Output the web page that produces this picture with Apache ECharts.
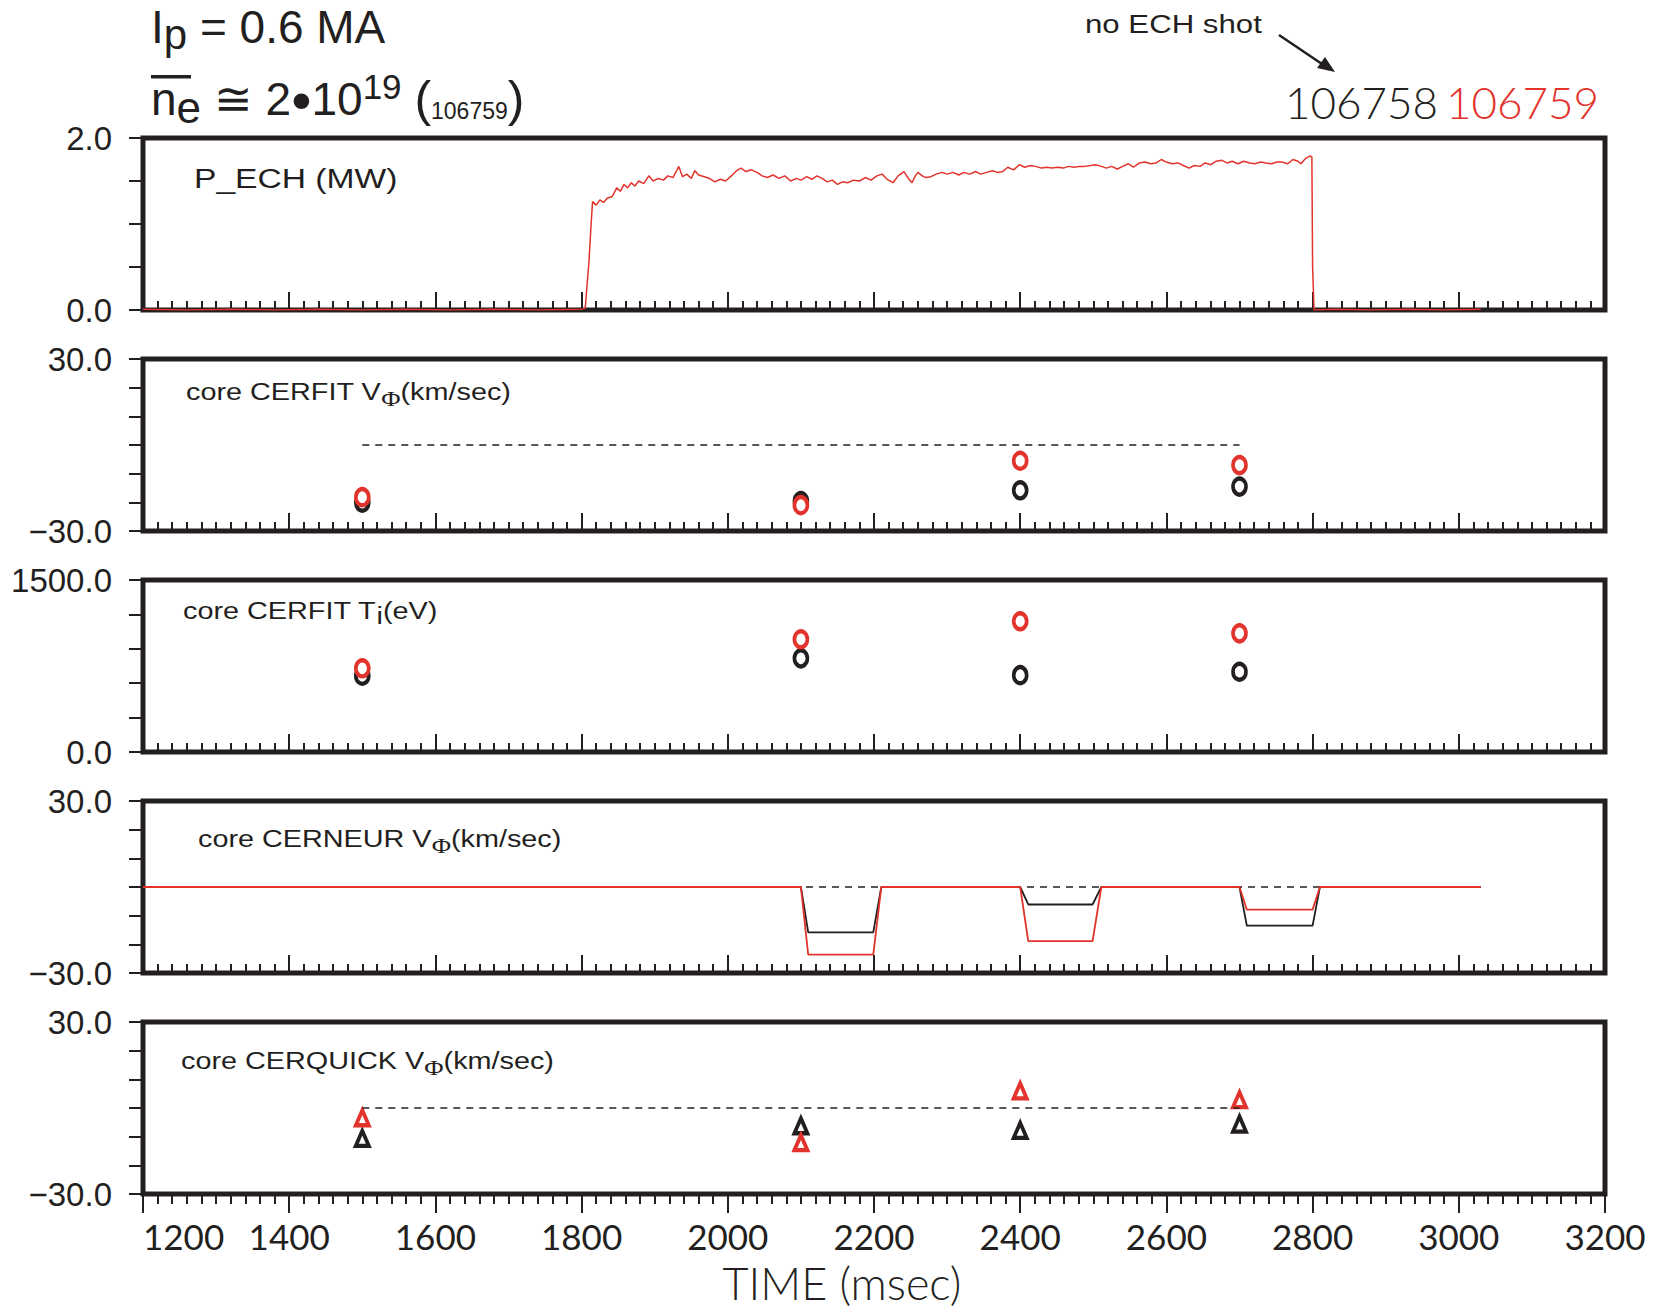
<!DOCTYPE html>
<html><head><meta charset="utf-8">
<script src="https://cdn.jsdelivr.net/npm/echarts@6/dist/echarts.min.js"></script>
<style>html,body{margin:0;padding:0;background:#fff}#c{width:1658px;height:1312px}</style>
</head><body><div id="c"></div><script>
// ---------------- DATA ----------------
const timeTicks = [1200, 1400, 1600, 1800, 2000, 2200, 2400, 2600, 2800, 3000, 3200];
const shots = ['106758', '106759'];

// P_ECH (MW), shot 106759
const pechTime = [1200,1260,1320,1380,1440,1500,1560,1620,1680,1740,1800,1805,1808,1810,1813,1815,1820,1825,1830,1835,1842,1848,1853,1858,1863,1868,1873,1878,1885,1892,1898,1905,1912,1918,1925,1933,1938,1944,1950,1955,1960,1968,1975,1982,1990,1997,2005,2012,2018,2025,2032,2040,2047,2054,2062,2070,2078,2086,2094,2100,2108,2115,2122,2129,2136,2143,2150,2157,2164,2172,2180,2188,2196,2204,2211,2218,2226,2233,2241,2247,2252,2256,2260,2266,2271,2278,2285,2293,2300,2308,2316,2323,2331,2339,2346,2354,2362,2369,2376,2383,2391,2399,2406,2414,2421,2429,2436,2444,2451,2459,2466,2474,2481,2488,2496,2503,2511,2518,2525,2533,2540,2548,2555,2563,2571,2578,2586,2593,2600,2608,2616,2623,2631,2638,2646,2653,2661,2668,2676,2683,2690,2698,2706,2714,2721,2729,2736,2744,2751,2758,2766,2773,2780,2784,2790,2796,2799,2800,2802,2830,2880,2930,2980,3030];
const pechMW   = [0.01,0.0,0.01,0.0,0.01,0.0,0.01,0.0,0.01,0.0,0.01,0.02,0.35,0.55,1.0,1.26,1.22,1.28,1.25,1.3,1.32,1.42,1.38,1.46,1.42,1.48,1.44,1.5,1.47,1.56,1.5,1.53,1.51,1.56,1.54,1.67,1.55,1.58,1.53,1.62,1.57,1.55,1.53,1.49,1.52,1.5,1.56,1.62,1.65,1.61,1.63,1.6,1.56,1.54,1.57,1.53,1.56,1.5,1.53,1.51,1.55,1.52,1.56,1.53,1.49,1.51,1.46,1.49,1.48,1.51,1.5,1.54,1.51,1.56,1.58,1.52,1.48,1.56,1.61,1.53,1.48,1.55,1.6,1.56,1.54,1.55,1.58,1.6,1.58,1.6,1.57,1.6,1.58,1.61,1.58,1.6,1.62,1.6,1.61,1.66,1.63,1.69,1.66,1.68,1.67,1.65,1.66,1.65,1.66,1.65,1.67,1.66,1.67,1.67,1.68,1.69,1.67,1.65,1.67,1.64,1.67,1.7,1.66,1.71,1.72,1.7,1.71,1.75,1.72,1.7,1.71,1.68,1.65,1.68,1.67,1.71,1.69,1.73,1.74,1.71,1.73,1.7,1.73,1.71,1.7,1.72,1.71,1.7,1.72,1.72,1.7,1.75,1.73,1.7,1.76,1.79,1.78,0.5,0.0,0.01,0.0,0.01,0.0,0.01];

// CER sample times
const cerTime = [1500, 2100, 2400, 2700];
// core CERFIT V_phi (km/sec)
const cerfitV_106758 = [-20.1, -19.6, -15.8, -14.5];
const cerfitV_106759 = [-18.2, -21.0, -5.5, -7.0];
// core CERFIT Ti (eV)
const cerfitTi_106758 = [665, 817, 670, 700];
const cerfitTi_106759 = [730, 983, 1140, 1035];
// core CERQUICK V_phi (km/sec)
const cerquickV_106758 = [-10.6, -6.2, -7.8, -5.6];
const cerquickV_106759 = [-3.4, -12.1, 6.0, 2.9];
// core CERNEUR V_phi (km/sec)
const cerneurTime = [1200, 2100, 2110, 2199, 2210, 2400, 2411, 2499, 2511, 2700, 2710, 2800, 2810, 3030];
const cerneurV_106758 = [0, 0, -15.8, -15.8, 0, 0, -6.1, -6.1, 0, 0, -13.5, -13.5, 0, 0];
const cerneurV_106759 = [0, 0, -23.6, -23.6, 0, 0, -18.9, -18.9, 0, 0, -7.9, -7.9, 0, 0];
// zero reference (dashed) extents
const zeroRefCER = [1500, 2700];
const zeroRefNEUR = [1200, 3030];

// y-axis ranges for the five panels
const yMin = [0, -30, 0, -30, -30];
const yMax = [2, 30, 1500, 30, 30];
const yStep = [0.5, 10, 300, 10, 10];

// ---------------- STYLE ----------------
const INK = '#231f20';
const RED = '#e2332c';
const SANS = '"Liberation Sans", Arial, sans-serif';
const GEO = 'Lato, "Liberation Sans", sans-serif';
const gridTop = [138, 359, 580, 801, 1022];
const gridH = 172;

const zip = (a, b) => a.map((v, i) => [v, b[i]]);
const fmtY = v => (v < 0 ? '\u2212' : '') + Math.abs(v).toFixed(1);

const grids = gridTop.map(t => ({
  left: 143, right: 53, top: t, height: gridH, show: true,
  borderColor: INK, borderWidth: 5, backgroundColor: 'transparent'
}));

const xAxes = gridTop.map((t, i) => {
  const last = i === gridTop.length - 1;
  return {
    gridIndex: i, type: 'value', min: timeTicks[0], max: timeTicks[timeTicks.length - 1], interval: 200,
    axisLine: { show: false, onZero: false }, splitLine: { show: false },
    axisTick: { show: true, inside: !last, length: last ? 19 : 18, lineStyle: { color: INK, width: 2 } },
    minorTick: { show: true, splitNumber: 10, length: last ? 10 : 9, lineStyle: { color: INK, width: 2 } },
    axisLabel: { show: last, color: INK, fontFamily: GEO, fontSize: 35, margin: 24, alignMinLabel: 'left',
      formatter: v => String(v) }
  };
});

const yAxes = gridTop.map((t, i) => ({
  gridIndex: i, type: 'value', min: yMin[i], max: yMax[i], interval: yStep[i],
  axisLine: { show: false, onZero: false }, splitLine: { show: false },
  axisTick: { show: true, inside: false, length: 14, lineStyle: { color: INK, width: 2 } },
  axisLabel: {
    color: INK, fontFamily: SANS, fontSize: 33, margin: 31,
    formatter: v => (v === yMin[i] || v === yMax[i]) ? fmtY(v) : ''
  }
}));

const dashStyle = { color: INK, width: 1.6, type: [7, 6] };
const lineSeries = (xi, data, color, width, extra) => Object.assign({
  type: 'line', xAxisIndex: xi, yAxisIndex: xi, data, symbol: 'none',
  lineStyle: { color, width }, itemStyle: { color }, animation: false, silent: true
}, extra || {});
const dashSeries = (xi, range) => lineSeries(xi, [[range[0], 0], [range[1], 0]], INK, 1.6, { lineStyle: dashStyle });
const circles = (xi, ys, color) => ({
  type: 'scatter', xAxisIndex: xi, yAxisIndex: xi, data: zip(cerTime, ys),
  symbol: 'circle', symbolSize: [13, 16],
  itemStyle: { color: '#fff', borderColor: color, borderWidth: 4, opacity: 1 }, animation: false, silent: true
});
const triangles = (xi, ys, color) => ({
  type: 'scatter', xAxisIndex: xi, yAxisIndex: xi, data: zip(cerTime, ys),
  symbol: 'triangle', symbolSize: [13, 15],
  itemStyle: { color: '#fff', borderColor: color, borderWidth: 4, opacity: 1 }, animation: false, silent: true
});

const series = [
  lineSeries(0, zip(pechTime, pechMW), RED, 1.5),
  dashSeries(1, zeroRefCER),
  circles(1, cerfitV_106758, INK),
  circles(1, cerfitV_106759, RED),
  circles(2, cerfitTi_106758, INK),
  circles(2, cerfitTi_106759, RED),
  dashSeries(3, zeroRefNEUR),
  lineSeries(3, zip(cerneurTime, cerneurV_106758), INK, 1.8),
  lineSeries(3, zip(cerneurTime, cerneurV_106759), RED, 1.8),
  dashSeries(4, zeroRefCER),
  triangles(4, cerquickV_106758, INK),
  triangles(4, cerquickV_106759, RED)
];

// ---------------- TEXT ----------------
const txt = (x, y, text, rich, opts) => Object.assign({
  type: 'text', x, y, silent: true,
  style: { text, rich, fill: INK, align: 'left', verticalAlign: 'middle', textAlign: 'left', textVerticalAlign: 'middle', font: '28px ' + SANS }
}, opts || {});

const panelRich = (fs) => ({
  t: { fontSize: fs, fontFamily: SANS, fill: INK, lineHeight: 34, verticalAlign: 'middle' },
  s: { fontSize: fs - 2, fontFamily: '"Liberation Serif", serif', fill: INK, lineHeight: 20, verticalAlign: 'bottom' },
  i: { fontSize: fs, fontFamily: SANS, fill: INK, lineHeight: 20, verticalAlign: 'bottom' }
});

const graphic = [
  // title line 1: I_p = 0.6 MA
  txt(151, 27, '{a|I}{p|p}{a| = 0.6 MA}', {
    a: { fontSize: 46, fontFamily: SANS, fill: INK, lineHeight: 56, verticalAlign: 'middle' },
    p: { fontSize: 42, fontFamily: SANS, fill: INK, lineHeight: 40, verticalAlign: 'bottom' }
  }),
  // title line 2: n_e ≅ 2•10^19 (106759)
  txt(151, 99, '{a|n}{e|e}{a| \u2245 2}{d|\u2022}{a|10}{u|19}{a| }{q|(}{m|106759}{q|)}', {
    a: { fontSize: 46, fontFamily: SANS, fill: INK, lineHeight: 60, verticalAlign: 'middle' },
    q: { fontSize: 50, fontFamily: SANS, fill: INK, lineHeight: 60, verticalAlign: 'middle' },
    e: { fontSize: 44, fontFamily: SANS, fill: INK, lineHeight: 44, verticalAlign: 'bottom' },
    d: { fontSize: 58, fontFamily: SANS, fill: INK, lineHeight: 60, verticalAlign: 'middle' },
    u: { fontSize: 35, fontFamily: SANS, fill: INK, lineHeight: 34, verticalAlign: 'top' },
    m: { fontSize: 23, fontFamily: SANS, fill: INK, height: 36, lineHeight: 36, verticalAlign: 'bottom' }
  }),
  { type: 'rect', silent: true, shape: { x: 151, y: 75, width: 40, height: 3.5 }, style: { fill: INK } },
  // annotation
  txt(1085, 24, 'no ECH shot', null, { scaleX: 1.2, style: { text: 'no ECH shot', fill: INK, align: 'left', verticalAlign: 'middle', textAlign: 'left', textVerticalAlign: 'middle', font: '26px ' + SANS } }),
  { type: 'line', silent: true, shape: { x1: 1279, y1: 35, x2: 1322, y2: 64 }, style: { stroke: INK, lineWidth: 2.5 } },
  { type: 'polygon', silent: true, shape: { points: [[1335, 72], [1317, 68], [1325, 57]] }, style: { fill: INK } },
  // shot numbers
  txt(1285, 102, '{k|106758} {r|106759}', {
    k: { fontSize: 44, fontFamily: GEO, fontWeight: 300, fill: INK },
    r: { fontSize: 44, fontFamily: GEO, fontWeight: 300, fill: RED }
  }),
  // panel labels
  txt(194, 178, 'P_ECH (MW)', null, { scaleX: 1.2, style: { text: 'P_ECH (MW)', fill: INK, align: 'left', verticalAlign: 'middle', textAlign: 'left', textVerticalAlign: 'middle', font: '28px ' + SANS } }),
  txt(186, 392, '{t|core CERFIT V}{s|\u03A6}{t|(km/sec)}', panelRich(24), { scaleX: 1.2 }),
  txt(183, 611, '{t|core CERFIT T}{i|i}{t|(eV)}', panelRich(24), { scaleX: 1.2 }),
  txt(198, 839, '{t|core CERNEUR V}{s|\u03A6}{t|(km/sec)}', panelRich(24), { scaleX: 1.2 }),
  txt(181, 1061, '{t|core CERQUICK V}{s|\u03A6}{t|(km/sec)}', panelRich(24), { scaleX: 1.2 }),
  // x axis title
  txt(842, 1283, 'TIME (msec)', null, { style: { text: 'TIME (msec)', fill: INK, align: 'center', verticalAlign: 'middle', textAlign: 'center', textVerticalAlign: 'middle', font: '300 45px ' + GEO } })
];

const chart = echarts.init(document.getElementById('c'), null, { renderer: 'svg' });
chart.setOption({
  animation: false,
  backgroundColor: '#fff',
  grid: grids, xAxis: xAxes, yAxis: yAxes, series, graphic
});
</script></body></html>
